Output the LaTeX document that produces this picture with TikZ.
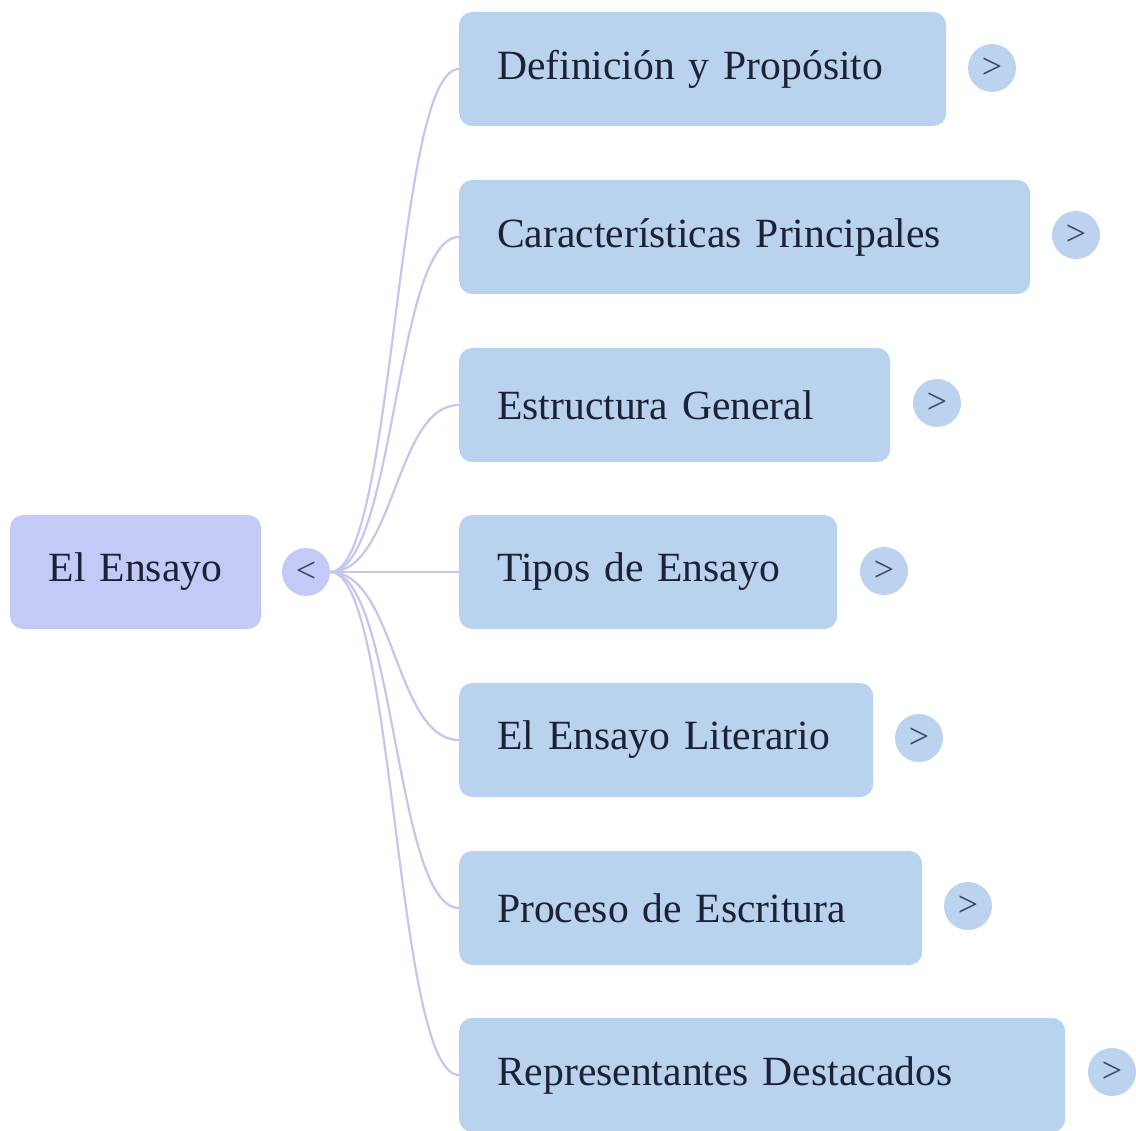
\documentclass[tikz,border=0pt]{standalone}
\usepackage{fontspec}
\setmainfont{Liberation Serif}
\usetikzlibrary{calc}
\definecolor{rootfill}{HTML}{C3CAF8}
\definecolor{childfill}{HTML}{B9D3EF}
\definecolor{togfill}{HTML}{BCD3F0}
\definecolor{edgecol}{HTML}{C4C6EE}
\definecolor{txt}{HTML}{1B2236}
\definecolor{togtxt}{HTML}{3A4560}
\tikzset{
  rootbox/.style={rectangle, rounded corners=13pt, fill=rootfill, text=txt,
    minimum height=114pt, inner xsep=38pt, inner ysep=0pt, align=center,
    font=\fontsize{41.6}{50}\selectfont},
  childbox/.style={rectangle, rounded corners=13pt, fill=childfill, text=txt,
    minimum height=114pt, inner xsep=38pt, inner ysep=0pt, align=left, anchor=west,
    font=\fontsize{41.6}{50}\selectfont},
  togroot/.style={circle, fill=rootfill, minimum size=48pt, inner sep=0pt, text=togtxt,
    font=\fontsize{36}{40}\selectfont},
  tog/.style={circle, fill=togfill, minimum size=48pt, inner sep=0pt, text=togtxt,
    font=\fontsize{36}{40}\selectfont},
  edge/.style={draw=edgecol, line width=2.2pt}
}
\begin{document}
\begin{tikzpicture}[x=1pt,y=-1pt]
\useasboundingbox (0,0) rectangle (1136,1131);
\node[rootbox, text width=175pt] (root) at (135.5,572) {El Ensayo};
\node[togroot] (tg) at (306,572) {<};

\node[childbox, text width=411pt] (c1) at (459,69) {Definición y Propósito};
\node[childbox, text width=495pt] (c2) at (459,237) {Características Principales};
\node[childbox, text width=355pt] (c3) at (459,405) {Estructura General};
\node[childbox, text width=302pt] (c4) at (459,572) {Tipos de Ensayo};
\node[childbox, text width=338pt] (c5) at (459,740) {El Ensayo Literario};
\node[childbox, text width=387pt] (c6) at (459,908) {Proceso de Escritura};
\node[childbox, text width=530pt] (c7) at (459,1075) {Representantes Destacados};

\node[tog] (t1) at (992,68) {>};
\node[tog] (t2) at (1076,235) {>};
\node[tog] (t3) at (937,403) {>};
\node[tog] (t4) at (884,571) {>};
\node[tog] (t5) at (919,738) {>};
\node[tog] (t6) at (968,906) {>};
\node[tog] (t7) at (1112,1072) {>};

\foreach \c in {c1,c2,c3,c4,c5,c6,c7}{
  \draw[edge] (tg.east) .. controls (395,572) and ($(\c.west)+(-64,0)$) .. (\c.west);
}
\end{tikzpicture}
\end{document}
